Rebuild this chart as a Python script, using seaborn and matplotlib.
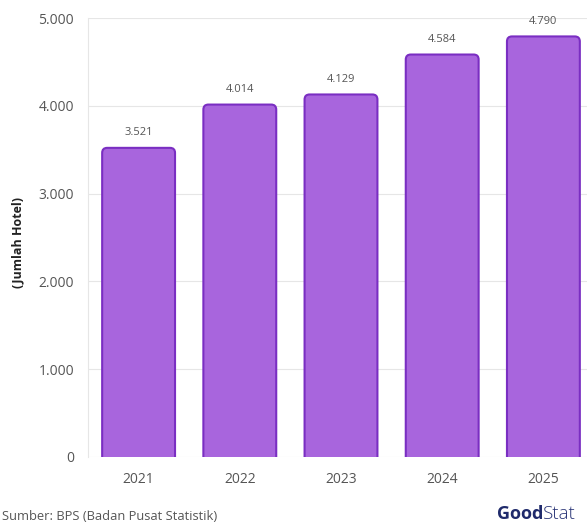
import matplotlib
matplotlib.use("Agg")
import matplotlib.pyplot as plt
import seaborn as sns
import pandas as pd
from matplotlib.patches import FancyBboxPatch

years = ["2021", "2022", "2023", "2024", "2025"]
hotels = [3521, 4014, 4129, 4584, 4790]
value_labels = ["3.521", "4.014", "4.129", "4.584", "4.790"]
yticks = [0, 1000, 2000, 3000, 4000, 5000]
ytick_labels = ["0", "1.000", "2.000", "3.000", "4.000", "5.000"]

sns.set_theme(style="white")
plt.rcParams["font.family"] = ["Open Sans", "DejaVu Sans"]

df = pd.DataFrame({"Tahun": years, "Hotel": hotels})

fig = plt.figure(figsize=(5.87, 5.25), dpi=100)
W, H = 587, 525
left, right, top, bottom = 88, 594, 18, 457
ax = fig.add_axes([left / W, 1 - bottom / H, (right - left) / W, (bottom - top) / H])

fill = "#A865DD"
edge = "#7A2EC2"
sns.barplot(data=df, x="Tahun", y="Hotel", ax=ax, color=fill, width=0.72,
            saturation=1, edgecolor=edge, linewidth=1.5)

ax.set_xlim(-0.5, 4.5)
ax.set_ylim(0, 5000)

# replace bars with rounded-top versions
xpx = (right - left) / 5.0
ypx = (bottom - top) / 5000.0
aspect = (1 / ypx) / (1 / xpx)
for p in list(ax.patches):
    x0, w, h = p.get_x(), p.get_width(), p.get_height()
    p.remove()
    r = 5 / xpx
    fb = FancyBboxPatch((x0, -200), w, h + 200,
                        boxstyle=f"round,pad=0,rounding_size={r}",
                        mutation_aspect=aspect, facecolor=fill,
                        edgecolor=edge, linewidth=1.5, zorder=3, clip_on=True)
    ax.add_patch(fb)

for i, (v, lab) in enumerate(zip(hotels, value_labels)):
    ax.text(i, v + 110, lab, ha="center", va="bottom", fontsize=8, color="#555555")

ax.set_yticks(yticks)
ax.set_yticklabels(ytick_labels, fontsize=10, color="#555555")
ax.tick_params(axis="x", labelsize=10, labelcolor="#555555", length=0, pad=11)
ax.tick_params(axis="y", length=6, color="#e6e6e6", width=0.8, pad=4)
ax.yaxis.grid(True, color="#e6e6e6", linewidth=0.8)
ax.set_axisbelow(True)
for s in ["top", "right", "bottom"]:
    ax.spines[s].set_visible(False)
ax.spines["left"].set_color("#e6e6e6")
ax.spines["left"].set_linewidth(0.8)
ax.set_xlabel("")
ax.set_ylabel("")

fig.text(18 / W, 1 - 243 / H, "(Jumlah Hotel)", rotation=90, ha="center", va="center",
         fontsize=9, fontweight="bold", color="#222222")

fig.text(2 / W, 1 - 517 / H, "Sumber: BPS (Badan Pusat Statistik)", ha="left", va="center",
         fontsize=9.3, color="#555555")

t1 = fig.text(497 / W, 1 - 514 / H, "Good", ha="left", va="center", fontsize=13,
              fontweight="bold", color="#1f2a6b")
fig.canvas.draw()
bb = t1.get_window_extent(renderer=fig.canvas.get_renderer())
fig.text(bb.x1 / W, 1 - 514 / H, "Stat", ha="left", va="center", fontsize=13.5,
         fontweight="light", color="#2a3577")

fig.savefig("out.png", dpi=100)
